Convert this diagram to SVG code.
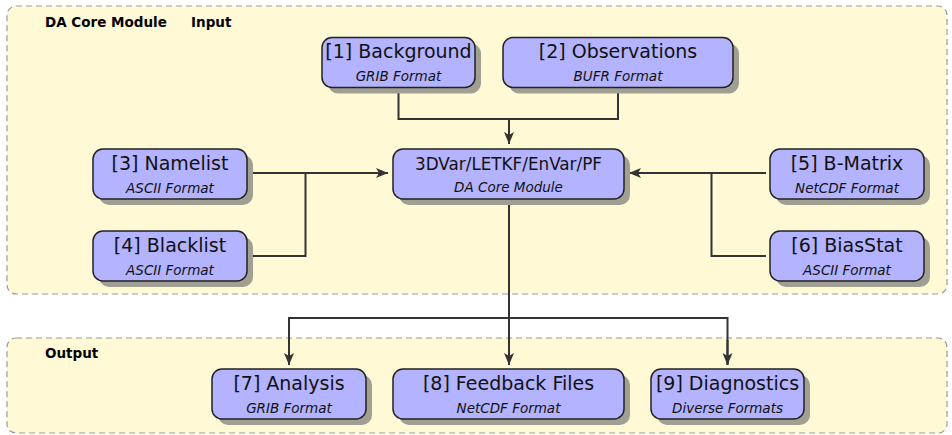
<svg xmlns="http://www.w3.org/2000/svg" width="952" height="435" viewBox="0 0 952 435">
<style>
.cluster{fill:#fff9d6;stroke:#9a9a9a;stroke-width:1.2;stroke-dasharray:6,4}
.clabel{font-family:"DejaVu Sans",sans-serif;font-weight:bold;font-size:13.5px;fill:#000}
.shadow{fill:#a09f92}
.box{fill:#b3b3ff;stroke:#222;stroke-width:1.5}
.title{font-family:"DejaVu Sans",sans-serif;font-size:19px;fill:#111;text-anchor:middle}
.core{font-size:16.8px}
.sub{font-family:"DejaVu Sans",sans-serif;font-style:italic;font-size:13.5px;fill:#111;text-anchor:middle}
.edge{fill:none;stroke:#333;stroke-width:2}
</style>
<defs>
<marker id="arr" viewBox="0 0 12 10" refX="12" refY="5" markerWidth="12" markerHeight="10" markerUnits="userSpaceOnUse" orient="auto">
<path d="M0,0 L12,5 L0,10 L3,5 Z" fill="#333"/>
</marker>
</defs>
<g id="cluster-input">
<rect class="cluster" x="7" y="6" width="940" height="288" rx="9"/>
<text class="clabel" x="45" y="27">DA Core Module</text>
<text class="clabel" x="191" y="27">Input</text>
</g>
<g id="cluster-output">
<rect class="cluster" x="7" y="338" width="940" height="95" rx="9"/>
<text class="clabel" x="45" y="358">Output</text>
</g>
<g id="connectors">
<polyline class="edge" points="398.5,91 398.5,119 618,119 618,91"/>
<line class="edge" x1="509" y1="119" x2="509" y2="144" marker-end="url(#arr)"/>
<line class="edge" x1="251" y1="173" x2="388" y2="173" marker-end="url(#arr)"/>
<polyline class="edge" points="251,256 305.5,256 305.5,173"/>
<line class="edge" x1="766" y1="173" x2="629" y2="173" marker-end="url(#arr)"/>
<polyline class="edge" points="766,256 711.5,256 711.5,173"/>
<line class="edge" x1="509" y1="203" x2="509" y2="365" marker-end="url(#arr)"/>
<polyline class="edge" points="289,365 289,318 727.5,318 727.5,365"/>
<line class="edge" x1="289" y1="340" x2="289" y2="365" marker-end="url(#arr)"/>
<line class="edge" x1="727.5" y1="340" x2="727.5" y2="365" marker-end="url(#arr)"/>
</g>
<g id="node1">
<rect class="shadow" x="328" y="43.5" width="153" height="50" rx="10"/>
<rect class="box" x="322" y="37.5" width="153" height="50" rx="10"/>
<text class="title" x="398.5" y="58">[1] Background</text>
<text class="sub" x="398.5" y="81">GRIB Format</text>
</g>
<g id="node2">
<rect class="shadow" x="509" y="43.5" width="230" height="50" rx="10"/>
<rect class="box" x="503" y="37.5" width="230" height="50" rx="10"/>
<text class="title" x="618" y="58">[2] Observations</text>
<text class="sub" x="618" y="81">BUFR Format</text>
</g>
<g id="node3">
<rect class="shadow" x="99" y="155" width="154" height="50" rx="10"/>
<rect class="box" x="93" y="149" width="154" height="50" rx="10"/>
<text class="title" x="170" y="170">[3] Namelist</text>
<text class="sub" x="170" y="193">ASCII Format</text>
</g>
<g id="node4">
<rect class="shadow" x="99" y="237" width="154" height="50" rx="10"/>
<rect class="box" x="93" y="231" width="154" height="50" rx="10"/>
<text class="title" x="170" y="252">[4] Blacklist</text>
<text class="sub" x="170" y="275">ASCII Format</text>
</g>
<g id="core">
<rect class="shadow" x="399" y="155" width="231" height="50" rx="10"/>
<rect class="box" x="393" y="149" width="231" height="50" rx="10"/>
<text class="title core" x="508.5" y="170">3DVar/LETKF/EnVar/PF</text>
<text class="sub" x="508.5" y="192">DA Core Module</text>
</g>
<g id="node5">
<rect class="shadow" x="776" y="155" width="154" height="50" rx="10"/>
<rect class="box" x="770" y="149" width="154" height="50" rx="10"/>
<text class="title" x="847" y="170">[5] B-Matrix</text>
<text class="sub" x="847" y="193">NetCDF Format</text>
</g>
<g id="node6">
<rect class="shadow" x="776" y="237" width="154" height="50" rx="10"/>
<rect class="box" x="770" y="231" width="154" height="50" rx="10"/>
<text class="title" x="847" y="252">[6] BiasStat</text>
<text class="sub" x="847" y="275">ASCII Format</text>
</g>
<g id="node7">
<rect class="shadow" x="218" y="375" width="154" height="50" rx="10"/>
<rect class="box" x="212" y="369" width="154" height="50" rx="10"/>
<text class="title" x="289" y="390">[7] Analysis</text>
<text class="sub" x="289" y="413">GRIB Format</text>
</g>
<g id="node8">
<rect class="shadow" x="399" y="375" width="231" height="50" rx="10"/>
<rect class="box" x="393" y="369" width="231" height="50" rx="10"/>
<text class="title" x="508.5" y="390">[8] Feedback Files</text>
<text class="sub" x="508.5" y="413">NetCDF Format</text>
</g>
<g id="node9">
<rect class="shadow" x="657" y="375" width="153" height="50" rx="10"/>
<rect class="box" x="651" y="369" width="153" height="50" rx="10"/>
<text class="title" x="727.5" y="390">[9] Diagnostics</text>
<text class="sub" x="727.5" y="413">Diverse Formats</text>
</g>
</svg>
